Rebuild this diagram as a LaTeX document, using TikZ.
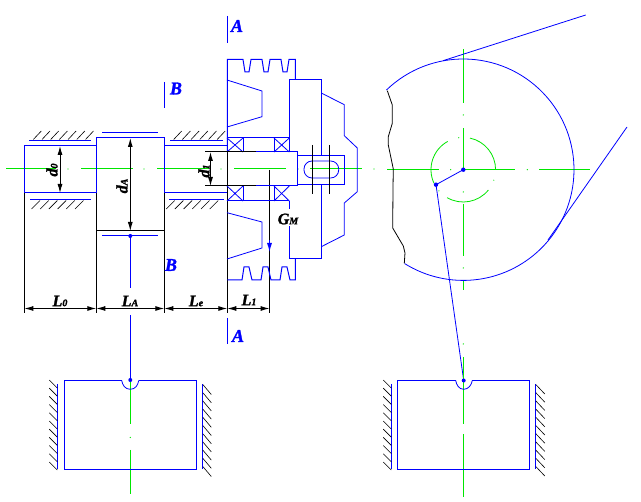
\documentclass[tikz,border=0pt]{standalone}
\usepackage{fontspec}
\setmainfont{Liberation Serif}
\newfontface\labfont[FakeBold=1.5]{Liberation Serif Bold Italic}
\usetikzlibrary{arrows.meta}
\definecolor{cblue}{RGB}{0,0,255}
\definecolor{cgreen}{RGB}{0,230,0}
\tikzset{
 bl/.style={draw=cblue,line width=1pt,line join=miter},
 blt/.style={draw=cblue,line width=0.8pt},
 bk/.style={draw=black,line width=1pt},
 gr/.style={draw=cgreen,line width=1pt},
 grt/.style={draw=cgreen,line width=0.8pt},
 ht/.style={draw=black,line width=0.6pt},
 dimline/.style={draw=black,line width=1pt,{Latex[length=9pt,width=5pt]}-{Latex[length=9pt,width=5pt]}},
 lab/.style={font=\labfont\fontsize{16}{16}\selectfont,text=black,inner sep=0pt},
 sec/.style={font=\labfont\fontsize{18}{18}\selectfont,text=cblue,inner sep=0pt},
 gdot/.style={fill=cgreen},
 bdot/.style={fill=cblue}
}
\newcommand{\subs}[1]{{\fontsize{10}{10}\selectfont #1}}
\begin{document}
\begin{tikzpicture}[x=1pt,y=-1pt]
\useasboundingbox[fill=white] (0,0) rectangle (641,502);
% centre lines, left view
\draw[gr] (6,169)--(56,169) (81,169)--(133,169) (157,169)--(209,169) (234,169)--(286,169) (310,169)--(362,169);
\foreach \x in {68,144,221,298,374} \fill[gdot] (\x,169) circle (0.7);
% shaft sections
\draw[bl] (96,146)--(24,146)--(24,193)--(96,193);
\draw[bl] (96,193)--(96,138)--(164,138)--(164,193);
\draw[bk] (96,231)--(164,231);
\draw[bl] (164,146)--(227,146) (164,193)--(227,193);
\draw[bl] (102,132.5)--(158,132.5) (102,236)--(158,236);
% bearing surfaces
\draw[bl] (29,140.5)--(91,140.5) (170,140.5)--(223,140.5) (30,199.5)--(91,199.5) (169,199.5)--(224,199.5);
\foreach \x in {0,...,6} \draw[ht] ({33.3+8.7*\x},139.5)--++(8,-8.5);
\foreach \x in {0,...,5} \draw[ht] ({173.7+8.7*\x},139.5)--++(8,-8.5);
\foreach \x in {0,...,5} \draw[ht] ({40+8.7*\x},200.5)--++(-8.5,8.5);
\foreach \x in {0,...,5} \draw[ht] ({174.7+8.7*\x},200.5)--++(-8.5,8.5);
% extension lines
\draw[bk] (24.3,193)--(24.3,313) (96.3,193)--(96.3,313) (164.3,193)--(164.3,313) (227.3,152)--(227.3,313) (269.5,170)--(269.5,313);
% pulley
\draw[bl] (227.3,152)--(227.3,59.5)--(243,59.5)--(245,72)--(249,72)--(251,59.5)--(262,59.5)--(264,72)--(268,72)--(270,59.5)--(281,59.5)--(283,72)--(287,72)--(289,59.5)--(295.3,59.5)--(295.3,80);
\draw[bl] (227.3,280)--(242,280)--(244,267)--(249,267)--(252,280)--(261,280)--(263,267)--(268,267)--(271,280)--(280,280)--(282,267)--(287,267)--(290,280)--(295.3,280)--(295.3,259);
\draw[blt] (227,80)--(262,91)--(262,116.7)--(227,127);
\draw[blt] (227,212.7)--(262,222)--(262,248)--(227,259);
% hub
\draw[bl] (289.3,152)--(289.3,80)--(321.3,80)--(321.3,155);
\draw[bl] (321.3,184.5)--(321.3,259)--(289.3,259)--(289.3,226);
\draw[bl] (289.3,201)--(289.3,209);
% bearings
\draw[bl] (227,138)--(289.3,138) (227,201)--(289.3,201);
\draw[bl] (243,138)--(243,152) (274,138)--(274,152) (243,186)--(243,201) (274,186)--(274,201);
\draw[blt] (227,138)--(243,152) (227,152)--(243,138) (274,138)--(289.3,152) (274,152)--(289.3,138);
\draw[blt] (227,186)--(243,201) (227,201)--(243,186) (274,186)--(289.3,201) (274,201)--(289.3,186);
% journal end and key
\draw[bk] (205,152)--(256,152) (205,186)--(256,186);
\draw[bl] (256,152)--(297.5,152)--(297.5,186)--(256,186);
\draw[bl] (297.5,155.5)--(344.7,155.5)--(344.7,184.5)--(297.5,184.5);
\draw[blt,rounded corners=8pt] (304,161)--(338.7,161)--(338.7,178)--(304,178)--cycle;
\draw[bk] (312.3,145)--(312.3,194) (329.3,145)--(329.3,194);
% cover
\draw[blt] (321.3,93)--(344.3,104.7)--(344.3,135.7)--(357.3,148)--(357.3,191.7)--(344.3,203)--(344.3,235)--(321.3,246.7);
% section marks
\draw[bl] (227.3,16)--(227.3,43) (227.3,318)--(227.3,344) (164.3,82)--(164.3,108);
\node[sec] (secAt) at (237,26) {A};
\node[sec] (secAb) at (238,336) {A};
\node[sec] (secBt) at (176,88.5) {B};
\node[sec] (secBb) at (171,265) {B};
% dimensions
\coordinate (L0a) at (24.3,308.5); \coordinate (L0b) at (96.3,308.5);
\coordinate (LAb) at (164.3,308.5); \coordinate (Leb) at (227.3,308.5); \coordinate (L1b) at (269.5,308.5);
\draw[dimline] (L0a)--(L0b);
\draw[dimline] (L0b)--(LAb);
\draw[dimline] (LAb)--(Leb);
\draw[dimline] (Leb)--(L1b);
\coordinate (d0a) at (60,146); \coordinate (d0b) at (60,193);
\coordinate (dAa) at (130.3,138); \coordinate (dAb) at (130.3,231);
\coordinate (d1a) at (210.5,152); \coordinate (d1b) at (210.5,186);
\draw[dimline] (d0a)--(d0b);
\draw[dimline] (dAa)--(dAb);
\draw[dimline] (d1a)--(d1b);
\node[lab] (lL0) at (60,301) {L\subs{0}};
\node[lab] (lLA) at (130,301) {L\subs{A}};
\node[lab] (lLe) at (196,301) {L\subs{e}};
\node[lab] (lL1) at (249,300) {L\subs{1}};
\node[lab,rotate=90] (ld0) at (52,170) {d\subs{0}};
\node[lab,rotate=90] (ldA) at (122,186) {d\subs{A}};
\node[lab,rotate=90] (ld1) at (204,171) {d\subs{1}};
\node[lab] (lGM) at (288,219) {G\subs{M}};
% force arrow
\coordinate (Gs) at (269.5,240); \coordinate (Ge) at (269.5,252);
\draw[draw=cblue,line width=1pt,-{Latex[length=9pt,width=5pt]}] (Gs)--(Ge);
% left connecting rod line
\coordinate (Pa) at (130.3,236); \coordinate (Pb) at (130.3,288);
\coordinate (Pc) at (130.3,315); \coordinate (Pd) at (130.3,380);
\fill[bdot] (Pa) circle (2);
\draw[bl] (Pa)--(Pb) (Pc)--(Pd);
% lower left slider
\draw[gr] (130.3,380)--(130.3,424.5) (130.3,450)--(130.3,494);
\fill[gdot] (130.3,437.5) circle (0.7);
\draw[bl] (138.7,380.5)--(196.3,380.5)--(196.3,470)--(64.3,470)--(64.3,380.5)--(121.7,380.5);
\draw[blt] (121.7,380.5) .. controls (122.5,385) and (125,389.3) .. (130.3,389.3) .. controls (135.5,389.3) and (138,385) .. (138.7,380.5);
\fill[bdot] (Pd) circle (2);
\draw[bl] (57.3,384)--(57.3,468.7) (202.3,384)--(202.3,468.7);
\foreach \k in {0,...,10} {
 \draw[ht] (49.3,{380+8.2*\k})--++(8,8);
 \draw[ht] (202.8,{384.5+8.2*\k})--++(8.5,10);
}
% right view: flywheel
\coordinate (O) at (463.3,169.7);
\coordinate (Cr) at (436,184.7);
\coordinate (Sl) at (463.7,380.5);
\draw[gr] (463.3,49)--(463.3,102.7) (463.3,128)--(463.3,169.7) (463.3,204)--(463.3,256) (463.3,281)--(463.3,290);
\foreach \y in {115,192,268,344} \fill[gdot] (463.3,\y) circle (0.7);
\draw[gr] (387,169.7)--(439,169.7) (463.3,169.7)--(515,169.7) (539,169.7)--(590,169.7);
\fill[gdot] (450.7,169.7) circle (0.7);
\fill[gdot] (527.3,169.7) circle (0.7);
\draw[grt] (O) ++(0:32.3) arc[start angle=0,end angle=-78,radius=32.3];
\draw[grt] (O) ++(-119:32.3) arc[start angle=-119,end angle=-205,radius=32.3];
\draw[grt] (O) ++(120:32.3) arc[start angle=120,end angle=39,radius=32.3];
\foreach \a in {-98,139,19} \fill[gdot] (O) ++(\a:32.3) circle (0.6);
\draw[blt] (O) ++(-134:110.7) arc[start angle=-134,end angle=122,radius=110.7];
\draw[bk,line width=0.8pt] (387.3,90.7)--(392.3,105)--(392.3,123.3)--(388.3,136.7)--(388.3,145)--(393.3,169)--(393,188)--(392.7,228)--(403.3,246)--(405,253)--(404.3,263.3);
\draw[blt] (443,60.7)--(585.7,15);
\draw[blt] (548,240)--(627,127);
\draw[blt] (O)--(Cr)--(Sl);
\fill[bdot] (O) circle (2.2);
\fill[bdot] (Cr) circle (2.2);
% lower right slider
\draw[gr] (463.3,357)--(463.3,424.3) (463.3,434)--(463.3,497);
\draw[bl] (472.3,380.5)--(529.3,380.5)--(529.3,470)--(397.3,470)--(397.3,380.5)--(455.7,380.5);
\draw[blt] (455.7,380.5) .. controls (456.5,385) and (459,389.3) .. (463.7,389.3) .. controls (468.5,389.3) and (471.5,385) .. (472.3,380.5);
\fill[bdot] (Sl) circle (2);
\draw[bl] (391.3,384)--(391.3,468.7) (535.3,384)--(535.3,468.7);
\foreach \k in {0,...,10} {
 \draw[ht] (383.3,{380+8.2*\k})--++(8,8);
 \draw[ht] (535.8,{384.5+8.2*\k})--++(9,9.5);
}
\end{tikzpicture}
\end{document}
